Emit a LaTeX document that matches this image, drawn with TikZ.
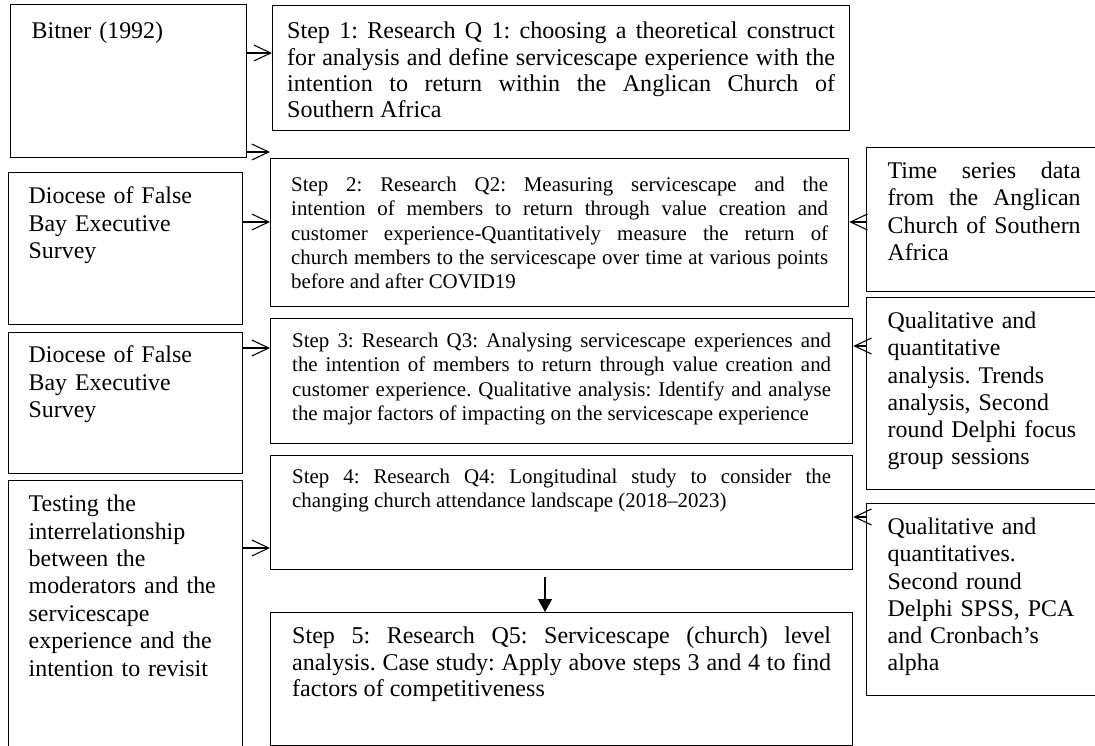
\documentclass[tikz,border=0pt]{standalone}
\usepackage{fontspec}
\setmainfont{Liberation Serif}
\frenchspacing
\usetikzlibrary{arrows.meta,positioning}

\begin{document}
\begin{tikzpicture}[x=0.02cm, y=-0.02cm,
    box/.style={rectangle, draw, line width=0.8pt, anchor=north west, inner ysep=0pt},
    srcbox/.style={box, inner xsep=0.40cm, text width=3.88cm, align=left, font=\fontsize{13.6}{15.6}\selectfont},
    databox/.style={box, inner xsep=0.42cm, text width=3.86cm, align=left, font=\fontsize{13.6}{15.5}\selectfont},
    stepbox/.style={box, inner xsep=0.43cm, text width=10.78cm, align=justify, font=\fontsize{11.9}{13.8}\selectfont},
    bigstep/.style={stepbox, font=\fontsize{13.7}{15}\selectfont},
    arr/.style={-{Straight Barb[length=0.34cm, width=0.32cm]}, line width=0.6pt},
    darr/.style={-{Triangle[length=0.26cm, width=0.28cm]}, line width=0.8pt}]
    \useasboundingbox (0,0) rectangle (1095,746);
    \clip (0,0) rectangle (1095,746);

    % Sources (left)
    \node[srcbox, inner xsep=0.42cm, text height=0.68cm, text depth=2.38cm] (bit) at (10,4) {Bitner (1992)};
    \node[srcbox, text height=0.62cm, text depth=2.42cm] (dfb1) at (8,172) {Diocese of False\\Bay Executive\\Survey};
    \node[srcbox, text height=0.60cm, text depth=2.22cm] (dfb2) at (8,332) {Diocese of False\\Bay Executive\\Survey};
    \node[srcbox, text height=0.62cm, text depth=4.98cm] (test) at (8,480) {Testing the\\interrelationship\\between the\\moderators and the\\servicescape\\experience and the\\intention to revisit};

    % Research steps (middle)
    \node[bigstep, inner xsep=0.29cm, text width=10.96cm, text height=0.66cm, text depth=1.84cm] (s1) at (272,5) {Step 1: Research Q 1: choosing a theoretical construct\linebreak for analysis and define servicescape experience with the\linebreak intention to return within the Anglican Church of\linebreak Southern Africa};
    \node[stepbox, inner xsep=0.41cm, text width=10.74cm, text height=0.66cm, text depth=2.30cm] (s2) at (270,158) {Step 2: Research Q2: Measuring servicescape and the\linebreak intention of members to return through value creation and\linebreak customer experience-Quantitatively measure the return of\linebreak church members to the servicescape over time at various points\linebreak before and after COVID19};
    \node[stepbox, text height=0.58cm, text depth=1.92cm] (s3) at (270,318) {Step 3: Research Q3: Analysing servicescape experiences and\linebreak the intention of members to return through value creation and\linebreak customer experience. Qualitative analysis: Identify and analyse\linebreak the major factors of impacting on the servicescape experience};
    \node[stepbox, text height=0.56cm, text depth=1.72cm] (s4) at (270,455) {Step 4: Research Q4: Longitudinal study to consider the\linebreak changing church attendance landscape (2018–2023)};
    \node[bigstep, text height=0.62cm, text depth=2.04cm] (s5) at (270,612) {Step 5: Research Q5: Servicescape (church) level\linebreak analysis. Case study: Apply above steps 3 and 4 to find\linebreak factors of competitiveness};

    % Data and analysis (right)
    \node[databox, align=justify, text height=0.62cm, text depth=2.26cm] (ts) at (866,147) {Time series data\linebreak from the Anglican\linebreak Church of Southern\linebreak Africa};
    \node[databox, text height=0.62cm, text depth=3.22cm] (qa1) at (866,297) {Qualitative and\\quantitative\\analysis. Trends\\analysis, Second\\round Delphi focus\\group sessions};
    \node[databox, text height=0.62cm, text depth=3.22cm] (qa2) at (866,503) {Qualitative and\\quantitatives.\\Second round\\Delphi SPSS, PCA\\and Cronbach’s\\alpha};

    % Inputs to the steps
    \draw[arr] (bit.east |- 0,53) -- (s1.west |- 0,53);
    \draw[arr] (bit.east |- 0,152) -- (s2.west |- 0,152);
    \draw[arr] (dfb1.east |- 0,222) -- (s2.west |- 0,222);
    \draw[arr] (dfb2.east |- 0,348) -- (s3.west |- 0,348);
    \draw[arr] (test.east |- 0,548) -- (s4.west |- 0,548);
    \draw[arr] (ts.west |- 0,222) -- (s2.east |- 0,222);
    \draw[arr] (qa1.west |- 0,346) -- (s3.east |- 0,346);
    \draw[arr] (qa2.west |- 0,517) -- (s4.east |- 0,517);

    % Step 4 to step 5
    \draw[darr, shorten <=0.14cm] (s4.south -| 545,0) -- (s5.north -| 545,0);
\end{tikzpicture}
\end{document}
